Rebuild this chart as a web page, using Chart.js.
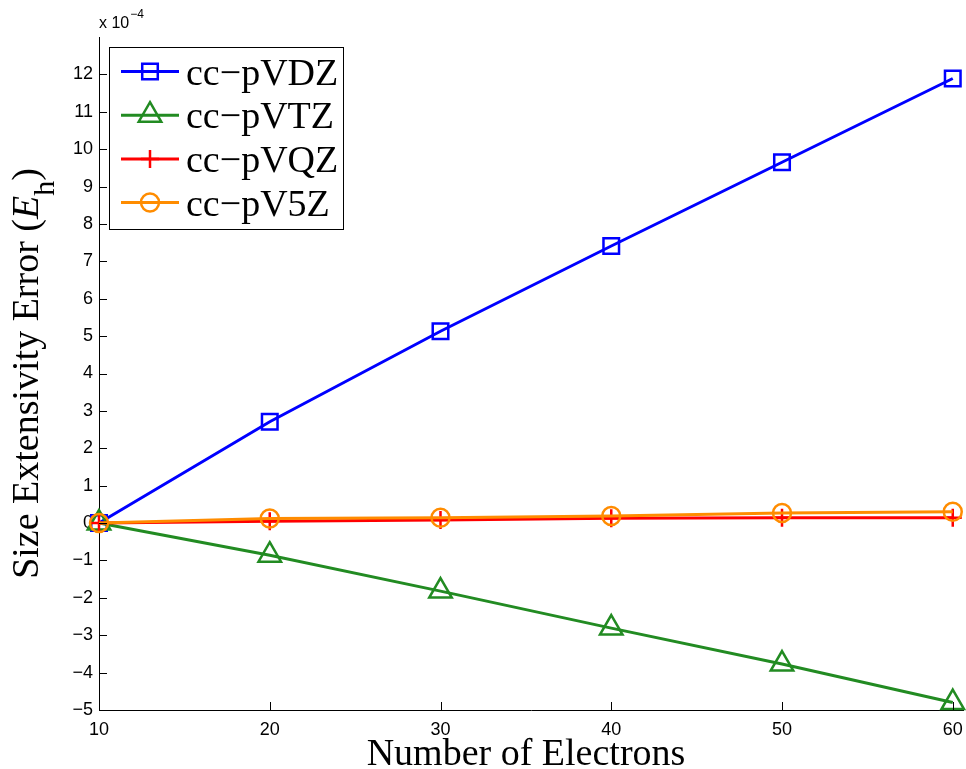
<!DOCTYPE html>
<html>
<head>
<meta charset="utf-8">
<script src="https://cdn.jsdelivr.net/npm/chart.js@4.4.0/dist/chart.umd.min.js"></script>
<style>
  html, body { margin: 0; padding: 0; background: #fff; }
</style>
</head>
<body>
<canvas id="myChart" width="966" height="769"></canvas>
<script>
'use strict'
// size extensivity error (units of 1e-4 Eh) vs number of electrons
let electrons = [10, 20, 30, 40, 50, 60];
let vdz = [0, 2.71, 5.13, 7.41, 9.65, 11.89];
let vtz = [0, -0.86, -1.82, -2.81, -3.77, -4.8];
let vqz = [0, 0.05, 0.08, 0.13, 0.14, 0.14];
let v5z = [0, 0.12, 0.14, 0.19, 0.27, 0.30];
let basisNames = ['cc\u2212pVDZ', 'cc\u2212pVTZ', 'cc\u2212pVQZ', 'cc\u2212pV5Z'];
let xTicks = [10, 20, 30, 40, 50, 60];
let yTicks = [-5, -4, -3, -2, -1, 0, 1, 2, 3, 4, 5, 6, 7, 8, 9, 10, 11, 12];

let serif = '"Liberation Serif", "Times New Roman", serif';
let sans = '"Liberation Sans", Arial, sans-serif';

function makeSet(name, values, color, style, radius, order) {
    return {
        label: name,
        data: electrons.map((x, i) => ({ x: x, y: values[i] })),
        borderColor: color,
        borderWidth: 3,
        pointStyle: style,
        pointRadius: radius,
        pointHoverRadius: radius,
        pointBorderColor: color,
        pointBackgroundColor: 'rgba(0,0,0,0)',
        pointBorderWidth: 2.5,
        tension: 0,
        clip: false,
        order: order
    };
}

let sets = [
    makeSet(basisNames[0], vdz, '#0000ff', 'rect', 11, 4),
    makeSet(basisNames[1], vtz, '#228b22', 'triangle', 13, 3),
    makeSet(basisNames[2], vqz, '#ff0000', 'cross', 9, 2),
    makeSet(basisNames[3], v5z, '#ff8c00', 'circle', 9, 1)
];

// inward tick marks, axis titles, exponent note and the boxed legend
let extras = {
    id: 'extras',
    afterDraw(chart) {
        let ctx = chart.ctx;
        let xs = chart.scales.x;
        let ys = chart.scales.y;
        let area = chart.chartArea;

        ctx.save();
        ctx.strokeStyle = '#000';
        ctx.lineWidth = 1;
        ctx.beginPath();
        yTicks.forEach(v => {
            let y = Math.round(ys.getPixelForValue(v)) + 0.5;
            ctx.moveTo(area.left, y);
            ctx.lineTo(area.left + 8, y);
        });
        xTicks.forEach(v => {
            let x = Math.round(xs.getPixelForValue(v)) + 0.5;
            ctx.moveTo(x, area.bottom);
            ctx.lineTo(x, area.bottom - 8);
        });
        ctx.stroke();

        // x 10^-4
        ctx.fillStyle = '#000';
        ctx.textBaseline = 'alphabetic';
        ctx.textAlign = 'left';
        ctx.font = '16px ' + sans;
        ctx.fillText('x 10', area.left, 28);
        let w = ctx.measureText('x 10').width;
        ctx.font = '12px ' + sans;
        ctx.fillText('\u22124', area.left + w + 1, 18);

        // x title
        ctx.font = '38px ' + serif;
        ctx.textAlign = 'center';
        ctx.fillText('Number of Electrons', (area.left + area.right) / 2 - 5, 765);

        // y title with italic E and subscript h
        let parts = [
            { t: 'Size Extensivity Error (', f: '38px ' + serif, dy: 0 },
            { t: 'E', f: 'italic 38px ' + serif, dy: 0 },
            { t: 'h', f: '30px ' + serif, dy: 16 },
            { t: ')', f: '38px ' + serif, dy: 0 }
        ];
        let total = 0;
        parts.forEach(p => { ctx.font = p.f; p.w = ctx.measureText(p.t).width; total += p.w; });
        ctx.translate(38, (area.top + area.bottom) / 2);
        ctx.rotate(-Math.PI / 2);
        ctx.textAlign = 'left';
        let px = -total / 2;
        parts.forEach(p => {
            ctx.font = p.f;
            ctx.fillText(p.t, px, p.dy);
            px += p.w;
        });
        ctx.restore();

        // legend
        ctx.save();
        ctx.fillStyle = '#fff';
        ctx.fillRect(109, 47, 234, 182);
        ctx.strokeStyle = '#000';
        ctx.lineWidth = 1;
        ctx.strokeRect(109.5, 47.5, 234, 182);
        sets.forEach((ds, i) => {
            let y = 71.5 + i * 43.7;
            ctx.strokeStyle = ds.borderColor;
            ctx.lineWidth = ds.borderWidth;
            ctx.beginPath();
            ctx.moveTo(121, y);
            ctx.lineTo(179, y);
            ctx.stroke();
            ctx.lineWidth = ds.pointBorderWidth;
            ctx.fillStyle = 'rgba(0,0,0,0)';
            Chart.helpers.drawPoint(ctx, {
                pointStyle: ds.pointStyle,
                radius: ds.pointRadius,
                rotation: 0,
                borderWidth: ds.pointBorderWidth
            }, 150, y);
            ctx.fillStyle = '#000';
            ctx.font = '38px ' + serif;
            ctx.textAlign = 'left';
            ctx.textBaseline = 'alphabetic';
            ctx.fillText(ds.label, 186, y + 13);
        });
        ctx.restore();
    }
};

let ctx = document.getElementById('myChart').getContext('2d');
let myChart = new Chart(ctx, {
    type: 'line',
    data: { datasets: sets },
    options: {
        responsive: false,
        animation: false,
        events: [],
        layout: { autoPadding: false, padding: { top: 37, right: 3, left: 0, bottom: 0 } },
        plugins: {
            legend: { display: false },
            tooltip: { enabled: false }
        },
        scales: {
            x: {
                type: 'linear',
                min: 10,
                max: 60.6,
                afterBuildTicks: s => { s.ticks = xTicks.map(v => ({ value: v })); },
                afterFit: s => { s.height = 59; s.paddingLeft = 0; s.paddingRight = 0; },
                // the tick gap only spaces the labels, the marks are drawn inward above
                grid: {
                    drawOnChartArea: false,
                    drawTicks: true,
                    tickLength: 9,
                    tickColor: 'rgba(0,0,0,0)'
                },
                border: { display: true, color: '#000', width: 1 },
                ticks: {
                    color: '#000',
                    font: { family: sans, size: 18 },
                    padding: 0,
                    maxRotation: 0
                }
            },
            y: {
                type: 'linear',
                min: -5,
                max: 13,
                afterBuildTicks: s => { s.ticks = yTicks.map(v => ({ value: v })); },
                afterFit: s => { s.width = 99; s.paddingTop = 0; s.paddingBottom = 0; },
                grid: { display: false, drawTicks: false },
                border: { display: true, color: '#000', width: 1 },
                ticks: {
                    color: '#000',
                    font: { family: sans, size: 18 },
                    padding: 6,
                    callback: v => String(v).replace('-', '\u2212')
                }
            }
        }
    },
    plugins: [extras]
});
</script>
</body>
</html>
